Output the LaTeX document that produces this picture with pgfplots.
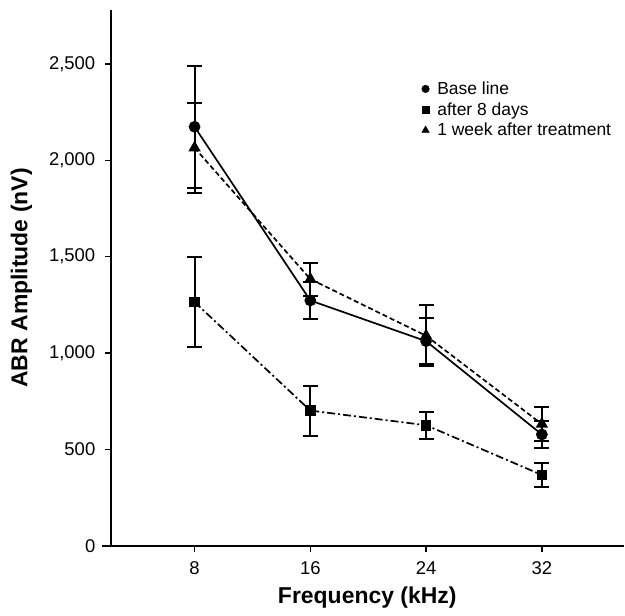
\documentclass[border=0pt]{standalone}
\usepackage{pgfplots}
\pgfplotsset{compat=1.18}
\usepackage{fontspec}
\setmainfont{Liberation Sans}
\begin{document}
\begin{tikzpicture}
\begin{axis}[
  at={(0,0)}, anchor=south west,
  scale only axis, width=514pt, height=537pt,
  xmin=2.21, xmax=37.66, ymin=0, ymax=2780,
  axis x line=bottom, axis y line=left,
  axis line style={line width=2pt, -},
  x axis line style={shorten <=-9pt, line width=2.5pt},
  xtick={8,16,24,32}, ytick={0,500,1000,1500,2000,2500},
  tick align=outside, major tick length=6pt,
  tick style={line width=1.4pt, black},
  /pgf/number format/.cd, 1000 sep={,}, assume math mode=true, /pgfplots/.cd,
  ticklabel style={font=\fontsize{18.5}{20}\selectfont},
  xticklabel style={yshift=-6pt},
  yticklabel style={xshift=-6pt},
  xlabel={\textbf{Frequency (kHz)}},
  ylabel={\textbf{ABR Amplitude (nV)}},
  label style={font=\fontsize{23}{26}\selectfont},
  xlabel style={yshift=-6pt},
  ylabel style={yshift=10pt},
  legend style={at={(0.6,0.87)}, anchor=north west, draw=none, fill=none,
    font=\fontsize{17.5}{20}\selectfont, row sep=6.5pt,
    nodes={inner xsep=8pt, inner ysep=0pt}},
  legend cell align=left,
]
\addlegendimage{only marks, mark=*, mark size=3.8pt, black}
\addlegendentry{Base line}
\addlegendimage{only marks, mark=square*, mark size=3.3pt, black}
\addlegendentry{after 8 days}
\addlegendimage{only marks, mark=triangle*, mark size=4.3pt, black}
\addlegendentry{1 week after treatment}

\addplot[forget plot, black, line width=1.7pt, mark=*, mark size=5pt,
  error bars/.cd, y dir=both, y explicit,
  error bar style={line width=2pt, black, solid},
  error mark options={rotate=90, mark size=7.5pt, line width=2pt, black, solid}] coordinates {
  (8,2174) +- (0,317)
  (16,1273) +- (0,98)
  (24,1062) +- (0,118)
  (32,578) +- (0,72)
};
\addplot[forget plot, black, line width=1.7pt, dash pattern=on 8pt off 3pt on 2pt off 3pt,
  mark=square*, mark size=4.5pt, mark options={solid},
  error bars/.cd, y dir=both, y explicit,
  error bar style={line width=2pt, black, solid},
  error mark options={rotate=90, mark size=7.5pt, line width=2pt, black, solid}] coordinates {
  (8,1265) +- (0,233)
  (16,702) +- (0,130)
  (24,626) +- (0,71)
  (32,368) +- (0,62)
};
\addplot[forget plot, black, line width=1.7pt, dash pattern=on 5pt off 3pt,
  mark=triangle*, mark size=5.5pt, mark options={solid},
  error bars/.cd, y dir=both, y explicit,
  error bar style={line width=2pt, black, solid},
  error mark options={rotate=90, mark size=7.5pt, line width=2pt, black, solid}] coordinates {
  (8,2065) +- (0,235)
  (16,1384) +- (0,86)
  (24,1090) +- (0,158)
  (32,632) +- (0,90)
};
\end{axis}
\useasboundingbox (-111pt,-70pt) rectangle (514pt,547pt);
\end{tikzpicture}
\end{document}
